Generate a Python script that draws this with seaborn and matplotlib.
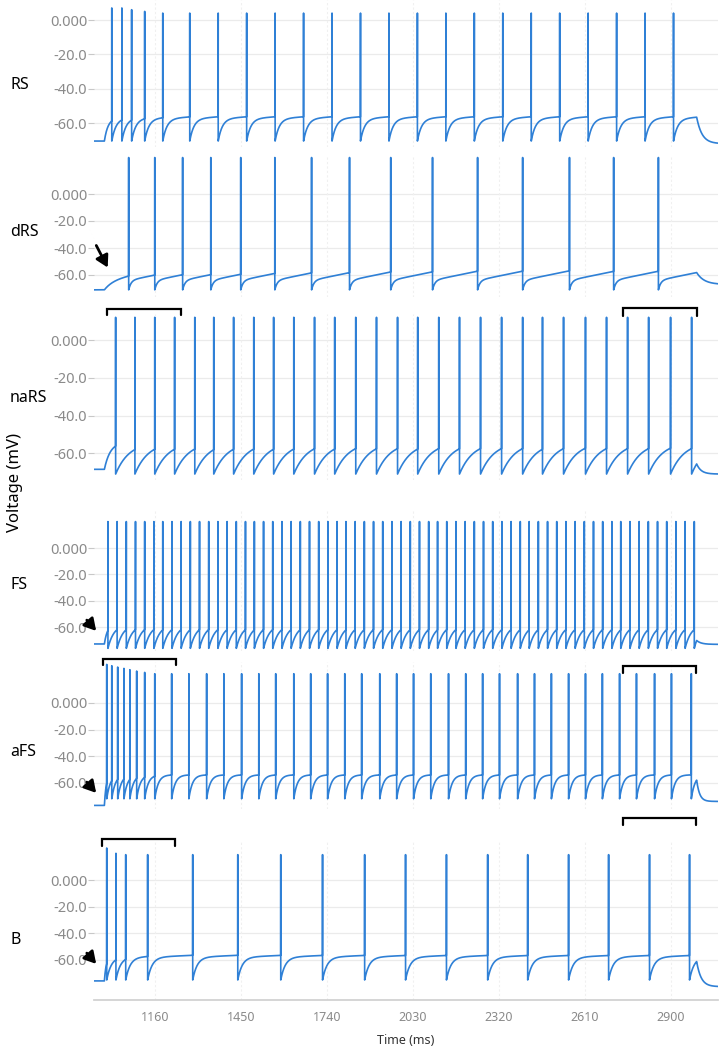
import numpy as np
import pandas as pd
import matplotlib
matplotlib.use("Agg")
import matplotlib.pyplot as plt
import seaborn as sns

# spike times (ms)
rs_spikes = [1015, 1049, 1082, 1126, 1187, 1278, 1374, 1470, 1566, 1662, 1758, 1854,
             1950, 2046, 2142, 2238, 2334, 2430, 2526, 2622, 2718, 2814, 2910]
drs_spikes = [1072, 1160, 1254, 1349, 1450, 1565, 1689, 1817, 1956, 2097, 2249, 2401,
              2559, 2708, 2859]
nars_spikes = [1028, 1093, 1160, 1227, 1295, 1359, 1426, 1494, 1561, 1629, 1699, 1767,
               1838, 1908, 1979, 2047, 2118, 2188, 2259, 2330, 2401, 2468, 2539, 2613,
               2684, 2755, 2826, 2900, 2971]
fs_spikes = [1002, 1033, 1064, 1095, 1126, 1157, 1187, 1218, 1249, 1280, 1311, 1342,
             1373, 1404, 1435, 1466, 1496, 1527, 1558, 1589, 1620, 1651, 1682, 1713,
             1744, 1775, 1805, 1836, 1867, 1898, 1929, 1960, 1991, 2022, 2053, 2084,
             2114, 2145, 2176, 2207, 2238, 2269, 2300, 2331, 2362, 2393, 2423, 2454,
             2485, 2516, 2547, 2578, 2609, 2640, 2671, 2702, 2732, 2763, 2794, 2825,
             2856, 2887, 2918, 2949, 2980]
afs_spikes = [998, 1015, 1035, 1056, 1076, 1099, 1126, 1160, 1217, 1275, 1335, 1393,
              1453, 1511, 1568, 1629, 1686, 1743, 1801, 1858, 1919, 1976, 2033, 2091,
              2151, 2209, 2266, 2323, 2384, 2441, 2498, 2556, 2613, 2670, 2728, 2785,
              2846, 2903, 2970]
b_spikes = [998, 1029, 1062, 1136, 1288, 1440, 1585, 1726, 1868, 2006, 2144, 2283,
            2418, 2556, 2691, 2829, 2964]

# spike peaks (mV): first spikes listed, the rest repeat the last value
rs_peaks = [7, 7, 6, 5, 4]
drs_peaks = [27]
nars_peaks = [12]
fs_peaks = [20]
afs_peaks = [29, 28, 27, 26, 25, 24, 23, 22]
b_peaks = [24, 20, 19]

panel_names = ["RS", "dRS", "naRS", "FS", "aFS", "B"]
xticks = [1160, 1450, 1740, 2030, 2320, 2610, 2900]
yticks = [-60, -40, -20, 0]
ytick_labels = ["-60.0", "-40.0", "-20.0", "0.000"]

stim_on, stim_off = 990, 2988

# membrane parameters per cell type
params = {
    "RS":   dict(rest=-70.5, reset=-70.5, plat=-57.5, tau=14, tau_on=12, creep=0.012, post=-72, tau_off=18),
    "dRS":  dict(rest=-71, reset=-71, plat=-64, tau=8, tau_on=30, creep=0.045, post=-67, tau_off=25),
    "naRS": dict(rest=-68.5, reset=-71, plat=-54, tau=45, tau_on=20, creep=0.0, post=-71, tau_off=15),
    "FS":   dict(rest=-72.7, reset=-76, plat=-58, tau=20, tau_on=10, creep=0.0, post=-73, tau_off=15),
    "aFS":  dict(rest=-77, reset=-72, plat=-54, tau=12, tau_on=6, creep=0.0, post=-74, tau_off=10),
    "B":    dict(rest=-75.7, reset=-75, plat=-58, tau=15, tau_on=6, creep=0.01, post=-80, tau_off=15),
}
spikes = dict(zip(panel_names, [rs_spikes, drs_spikes, nars_spikes, fs_spikes, afs_spikes, b_spikes]))
peaks = dict(zip(panel_names, [rs_peaks, drs_peaks, nars_peaks, fs_peaks, afs_peaks, b_peaks]))

# pixel layout: (zero-mV row, px per mV, ylim)
layout = {
    "RS":   (20, 1.717, (-74, 11.5)),
    "dRS":  (194, 1.35, (-76, 29)),
    "naRS": (340, 1.888, (-74, 14)),
    "FS":   (548, 1.32, (-78, 29)),
    "aFS":  (703, 1.33, (-80, 31)),
    "B":    (880, 1.333, (-90, 30)),
}
label_rows = {"RS": 85, "dRS": 232, "naRS": 398, "FS": 585, "aFS": 752, "B": 940}

# brackets: (panel, start ms, end ms, top mV, bottom mV)
brackets = [("naRS", 1000, 1250, 16.4, 13.2), ("naRS", 2740, 2990, 16.9, 12.7),
            ("aFS", 985, 1231, 33, 28.6), ("aFS", 2740, 2985, 28, 22.7),
            ("B", 981, 1227, 30.8, 25.5), ("B", 2740, 2985, 46.5, 41)]


def make_trace(sp, pk, p):
    t = np.arange(955, 3060, 0.25)
    v = np.full_like(t, p["rest"])
    events = [stim_on] + sp
    starts = [p["rest"]] + [p["reset"]] * len(sp)
    v_end = p["rest"]
    for i, (t0, v0) in enumerate(zip(events, starts)):
        t1 = events[i + 1] if i + 1 < len(events) else stim_off
        tau = p["tau_on"] if i == 0 else p["tau"]
        m = (t >= t0) & (t < t1)
        dt = t[m] - t0
        v[m] = p["plat"] + (v0 - p["plat"]) * np.exp(-dt / tau) + p["creep"] * dt
        if i + 1 == len(events):
            d1 = t1 - t0
            v_end = p["plat"] + (v0 - p["plat"]) * np.exp(-d1 / tau) + p["creep"] * d1
    m = t >= stim_off
    v[m] = p["post"] + (v_end - p["post"]) * np.exp(-(t[m] - stim_off) / p["tau_off"])
    peak_vals = [pk[min(i, len(pk) - 1)] for i in range(len(sp))]
    tt = np.concatenate([t, np.array(sp) - 0.01])
    vv = np.concatenate([v, peak_vals])
    order = np.argsort(tt, kind="stable")
    return pd.DataFrame({"time": tt[order], "voltage": vv[order]})


sns.set_theme(style="white")
plt.rcParams["font.family"] = ["Noto Sans", "DejaVu Sans"]

W, H = 724, 1049
fig = plt.figure(figsize=(W / 100, H / 100), dpi=100)
blue = "#2f80d6"
x0, x1 = 94, 718

for name in panel_names:
    zero, scale, (lo, hi) = layout[name]
    top = zero - hi * scale
    bot = zero - lo * scale
    ax = fig.add_axes([x0 / W, 1 - bot / H, (x1 - x0) / W, (bot - top) / H])
    df = make_trace(spikes[name], peaks[name], params[name])
    sns.lineplot(data=df, x="time", y="voltage", ax=ax, sort=False, estimator=None,
                 color=blue, linewidth=1.2)
    ax.set_xlim(955, 3060)
    ax.set_ylim(lo, hi)
    ax.set_yticks(yticks)
    ax.set_yticklabels(ytick_labels)
    ax.set_xticks(xticks)
    for y in yticks:
        ax.axhline(y, color="#ebebeb", lw=0.9, zorder=0)
    for x in xticks:
        ax.axvline(x, color="#f0f0f0", lw=0.8, ls=(0, (2, 2)), zorder=0)
    ax.tick_params(axis="y", length=4, width=0.8, color="#c8c8c8", pad=1,
                   labelsize=10.5, labelcolor="#8a8a8a", left=True)
    for s in ax.spines.values():
        s.set_visible(False)
    ax.set_xlabel("")
    ax.set_ylabel("")
    if name == "B":
        ax.spines["bottom"].set_visible(True)
        ax.spines["bottom"].set_color("#d0d0d0")
        ax.tick_params(axis="x", length=0, pad=8, labelsize=9, labelcolor="#8a8a8a")
        ax.set_xticklabels([str(x) for x in xticks])
    else:
        ax.tick_params(axis="x", length=0, labelbottom=False)
    for pn, a, b, ytop, ybot in brackets:
        if pn == name:
            ax.plot([a, a, b, b], [ybot, ytop, ytop, ybot], color="black", lw=1.6,
                    clip_on=False, solid_joinstyle="miter")
    fig.text(10 / W, 1 - label_rows[name] / H, name, fontsize=11.5, color="black",
             ha="left", va="center")

fig.text(15 / W, 1 - 483 / H, "Voltage (mV)", rotation=90, fontsize=12,
         ha="center", va="center", color="black")
fig.text(406 / W, 1 - 1040 / H, "Time (ms)", fontsize=9, ha="center", va="center",
         color="#333333")

# black arrows
arrows = [((95, 243), (109, 270)), ((85, 618), (98, 633)), ((85, 780), (98, 795)),
          ((85, 951), (98, 966))]
for (tx, ty), (hx, hy) in arrows:
    fig.add_artist(matplotlib.patches.FancyArrowPatch(
        (tx / W, 1 - ty / H), (hx / W, 1 - hy / H), transform=fig.transFigure,
        arrowstyle="-|>,head_length=7,head_width=4", color="black", lw=2))

fig.savefig("out.png", dpi=100)
